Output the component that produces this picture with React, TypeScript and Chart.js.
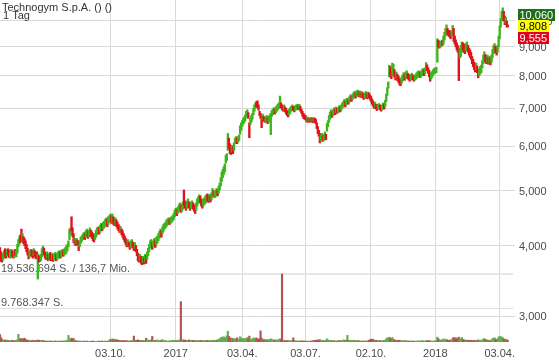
import React, { useEffect, useRef } from "react";
import { Chart, registerables } from "chart.js";

Chart.register(...registerables);

const TITLE = "Technogym S.p.A. () ()";
const SUBTITLE = "1 Tag";

// daily low / high (EUR), one entry per trading day from the IPO (03.05.2016)
const dayLow: number[] = [
  3.76, 3.75, 3.74, 3.77, 3.80, 3.82, 3.80, 3.83, 3.85, 3.81,
  3.80, 3.83, 3.82, 3.80, 3.81, 3.84, 3.82, 3.88, 3.98, 4.02,
  4.05, 4.08, 4.06, 4.03, 4.00, 3.95, 3.90, 3.85, 3.79, 3.82,
  3.84, 3.83, 3.80, 3.84, 3.82, 3.79, 3.80, 3.49, 3.74, 3.75,
  3.76, 3.82, 3.87, 3.85, 3.80, 3.78, 3.80, 3.76, 3.77, 3.78,
  3.76, 3.78, 3.75, 3.77, 3.79, 3.76, 3.78, 3.80, 3.82, 3.80,
  3.82, 3.84, 3.83, 3.85, 3.86, 3.88, 3.92, 3.98, 4.10, 4.18,
  4.25, 4.15, 4.05, 4.02, 4.00, 4.03, 4.01, 3.92, 3.98, 4.04,
  4.07, 4.10, 4.12, 4.10, 4.14, 4.16, 4.12, 4.14, 4.18, 4.15,
  4.12, 4.08, 4.06, 4.10, 4.14, 4.18, 4.21, 4.19, 4.22, 4.26,
  4.25, 4.28, 4.30, 4.33, 4.35, 4.32, 4.36, 4.40, 4.42, 4.38,
  4.40, 4.36, 4.34, 4.36, 4.32, 4.28, 4.25, 4.22, 4.24, 4.18,
  4.14, 4.10, 4.06, 4.02, 3.98, 4.00, 3.98, 3.94, 3.97, 4.00,
  3.96, 3.92, 3.95, 3.90, 3.84, 3.76, 3.74, 3.76, 3.72, 3.70,
  3.73, 3.71, 3.74, 3.72, 3.78, 3.84, 3.90, 3.96, 3.98, 3.94,
  3.98, 4.00, 3.97, 4.02, 4.04, 4.08, 4.12, 4.16, 4.14, 4.20,
  4.24, 4.28, 4.30, 4.33, 4.35, 4.38, 4.36, 4.38, 4.40, 4.42,
  4.45, 4.50, 4.54, 4.52, 4.56, 4.60, 4.62, 4.58, 4.60, 4.64,
  4.72, 4.66, 4.62, 4.66, 4.70, 4.66, 4.62, 4.65, 4.68, 4.64,
  4.60, 4.56, 4.62, 4.70, 4.75, 4.78, 4.76, 4.70, 4.66, 4.70,
  4.73, 4.75, 4.78, 4.80, 4.77, 4.80, 4.78, 4.82, 4.90, 4.88,
  4.86, 4.88, 4.92, 4.90, 4.95, 5.02, 5.10, 5.20, 5.28, 5.34,
  5.40, 5.60, 5.66, 5.90, 5.95, 5.82, 5.80, 5.86, 5.82, 5.90,
  6.06, 6.10, 6.06, 6.10, 6.14, 6.30, 6.40, 6.50, 6.56, 6.60,
  6.66, 6.75, 6.80, 6.72, 6.21, 6.55, 6.62, 6.70, 6.82, 6.92,
  7.00, 7.05, 7.02, 6.95, 6.80, 6.72, 6.47, 6.68, 6.64, 6.62,
  6.60, 6.64, 6.58, 6.62, 6.66, 6.29, 6.78, 6.82, 6.86, 6.84,
  6.88, 6.92, 6.96, 7.00, 7.10, 7.02, 6.96, 6.92, 6.95, 6.90,
  6.84, 6.80, 6.76, 6.82, 6.86, 6.92, 6.96, 6.94, 6.90, 6.94,
  6.96, 6.98, 6.96, 6.98, 6.92, 6.86, 6.78, 6.72, 6.70, 6.68,
  6.62, 6.64, 6.61, 6.63, 6.62, 6.64, 6.60, 6.62, 6.61, 6.58,
  6.45, 6.32, 6.25, 6.08, 6.12, 6.16, 6.12, 6.14, 6.20, 6.16,
  6.38, 6.50, 6.62, 6.70, 6.78, 6.75, 6.80, 6.86, 6.82, 6.88,
  6.86, 6.88, 6.92, 6.90, 6.95, 7.00, 7.04, 7.08, 7.04, 7.10,
  7.14, 7.12, 7.18, 7.22, 7.20, 7.26, 7.30, 7.34, 7.30, 7.36,
  7.38, 7.34, 7.36, 7.32, 7.35, 7.30, 7.26, 7.30, 7.34, 7.28,
  7.32, 7.30, 7.26, 7.20, 7.12, 7.06, 7.00, 7.04, 6.98, 6.94,
  6.98, 7.00, 6.96, 6.92, 6.96, 7.00, 6.98, 7.06, 7.20, 7.38,
  7.60, 7.95, 8.00, 7.90, 8.00, 8.10, 7.95, 7.86, 7.92, 7.84,
  7.78, 7.70, 7.68, 7.75, 7.82, 7.88, 7.85, 7.90, 7.94, 7.90,
  7.86, 7.82, 7.86, 7.90, 7.86, 7.82, 7.85, 7.88, 7.92, 7.95,
  7.98, 7.94, 7.96, 8.00, 8.04, 8.00, 8.06, 8.20, 8.16, 8.08,
  7.96, 7.82, 7.90, 7.95, 8.02, 8.06, 8.08, 8.10, 8.45, 9.00,
  8.95, 8.98, 9.02, 9.05, 9.10, 9.25, 9.40, 9.50, 9.45, 9.40,
  9.36, 9.30, 9.40, 9.50, 9.20, 9.10, 9.00, 8.88, 8.80, 7.84,
  8.60, 8.65, 8.80, 8.90, 8.80, 8.75, 8.85, 8.90, 8.80, 8.70,
  8.62, 8.55, 8.40, 8.30, 8.20, 8.12, 8.20, 8.10, 7.93, 8.00,
  8.05, 8.10, 8.26, 8.40, 8.50, 8.45, 8.40, 8.45, 8.38, 8.42,
  8.36, 8.44, 8.60, 8.75, 8.85, 8.78, 8.70, 8.80, 9.00, 9.30,
  9.75, 10.00, 10.20, 10.00, 9.85, 9.90, 9.75, 9.76,
];

const dayHigh: number[] = [
  3.97, 3.90, 3.86, 3.88, 3.92, 3.95, 3.90, 3.94, 3.95, 3.92,
  3.90, 3.94, 3.92, 3.89, 3.93, 3.94, 3.93, 4.02, 4.10, 4.15,
  4.18, 4.28, 4.20, 4.15, 4.12, 4.08, 4.02, 3.96, 3.90, 3.92,
  3.94, 3.93, 3.92, 3.95, 3.92, 3.88, 3.90, 3.87, 3.84, 3.83,
  3.86, 3.95, 3.99, 3.96, 3.90, 3.88, 3.90, 3.86, 3.87, 3.89,
  3.86, 3.88, 3.85, 3.87, 3.89, 3.86, 3.88, 3.90, 3.92, 3.90,
  3.92, 3.94, 3.92, 3.95, 3.97, 4.00, 4.02, 4.08, 4.28, 4.30,
  4.50, 4.30, 4.20, 4.12, 4.10, 4.12, 4.09, 4.05, 4.08, 4.14,
  4.16, 4.19, 4.22, 4.20, 4.25, 4.28, 4.24, 4.26, 4.30, 4.26,
  4.23, 4.20, 4.17, 4.20, 4.26, 4.30, 4.32, 4.30, 4.35, 4.38,
  4.36, 4.40, 4.42, 4.45, 4.48, 4.45, 4.50, 4.52, 4.55, 4.52,
  4.55, 4.50, 4.47, 4.48, 4.44, 4.40, 4.36, 4.33, 4.32, 4.28,
  4.25, 4.20, 4.16, 4.12, 4.08, 4.10, 4.06, 4.04, 4.08, 4.10,
  4.06, 4.02, 4.05, 4.00, 3.94, 3.88, 3.84, 3.86, 3.83, 3.80,
  3.83, 3.80, 3.86, 3.84, 3.90, 3.96, 4.02, 4.08, 4.10, 4.05,
  4.08, 4.12, 4.08, 4.14, 4.16, 4.20, 4.24, 4.28, 4.25, 4.32,
  4.36, 4.38, 4.40, 4.44, 4.46, 4.48, 4.46, 4.49, 4.50, 4.52,
  4.56, 4.62, 4.66, 4.64, 4.68, 4.72, 4.76, 4.72, 4.74, 4.78,
  5.02, 4.80, 4.76, 4.80, 4.84, 4.78, 4.74, 4.78, 4.80, 4.76,
  4.72, 4.68, 4.76, 4.84, 4.88, 4.92, 4.90, 4.84, 4.78, 4.84,
  4.86, 4.90, 4.92, 4.94, 4.90, 4.93, 4.90, 4.96, 5.05, 5.00,
  5.00, 5.02, 5.05, 5.02, 5.10, 5.16, 5.28, 5.40, 5.46, 5.52,
  5.58, 5.78, 5.82, 6.32, 6.20, 6.06, 6.00, 6.02, 5.98, 6.08,
  6.20, 6.24, 6.20, 6.24, 6.28, 6.52, 6.60, 6.66, 6.72, 6.76,
  6.82, 6.92, 6.96, 6.88, 6.60, 6.72, 6.80, 6.86, 7.00, 7.10,
  7.16, 7.20, 7.22, 7.10, 6.92, 6.86, 6.78, 6.84, 6.78, 6.75,
  6.76, 6.80, 6.74, 6.78, 6.82, 6.86, 6.94, 6.98, 7.02, 6.98,
  7.04, 7.08, 7.12, 7.16, 7.36, 7.16, 7.10, 7.06, 7.10, 7.04,
  7.00, 6.94, 6.90, 6.98, 7.02, 7.06, 7.10, 7.06, 7.04, 7.08,
  7.10, 7.12, 7.08, 7.12, 7.06, 6.98, 6.92, 6.86, 6.82, 6.80,
  6.74, 6.76, 6.72, 6.74, 6.72, 6.75, 6.72, 6.74, 6.73, 6.70,
  6.60, 6.50, 6.40, 6.32, 6.28, 6.32, 6.26, 6.30, 6.36, 6.30,
  6.58, 6.66, 6.80, 6.90, 6.96, 6.90, 6.96, 7.02, 6.98, 7.04,
  7.00, 7.02, 7.08, 7.04, 7.10, 7.16, 7.20, 7.26, 7.20, 7.28,
  7.30, 7.26, 7.34, 7.40, 7.36, 7.42, 7.46, 7.50, 7.46, 7.52,
  7.54, 7.50, 7.52, 7.48, 7.50, 7.46, 7.42, 7.46, 7.50, 7.44,
  7.48, 7.46, 7.40, 7.36, 7.28, 7.22, 7.16, 7.18, 7.12, 7.08,
  7.12, 7.14, 7.10, 7.06, 7.10, 7.16, 7.12, 7.24, 7.42, 7.62,
  7.80, 8.35, 8.30, 8.15, 8.42, 8.38, 8.20, 8.10, 8.12, 8.04,
  7.98, 7.90, 7.86, 7.95, 8.02, 8.10, 8.04, 8.12, 8.16, 8.08,
  8.04, 8.00, 8.04, 8.08, 8.02, 7.98, 8.02, 8.06, 8.10, 8.14,
  8.16, 8.10, 8.14, 8.20, 8.24, 8.18, 8.26, 8.44, 8.36, 8.26,
  8.18, 8.06, 8.10, 8.14, 8.20, 8.24, 8.26, 8.28, 9.30, 9.25,
  9.20, 9.18, 9.22, 9.25, 9.40, 9.55, 9.70, 9.84, 9.70, 9.62,
  9.62, 9.58, 9.60, 9.82, 9.70, 9.40, 9.26, 9.15, 9.05, 8.95,
  8.95, 9.05, 9.18, 9.15, 9.10, 9.00, 9.12, 9.18, 9.05, 8.95,
  8.88, 8.80, 8.65, 8.55, 8.45, 8.35, 8.42, 8.32, 8.20, 8.22,
  8.30, 8.35, 8.50, 8.70, 8.82, 8.72, 8.65, 8.70, 8.62, 8.66,
  8.60, 8.70, 8.90, 9.05, 9.12, 9.02, 8.95, 9.06, 9.40, 9.80,
  10.10, 10.40, 10.55, 10.40, 10.20, 10.15, 10.00, 9.84,
];

// g = day closed up (green), r = day closed down (red)
const dayDirection = [
  "rrrggrrgrr", "ggrrgrgggg", "rrgrrrrrrg", "grrgrrrgrr", "gggrrrgrgr",
  "rgrggrgggr", "ggrggggggg", "rrrgrgrrgg", "gggrggrggr", "rrrggggrgg",
  "rggggrgggr", "grrgrrrrgr", "rrrrrgrrgg", "rrgrrrrgrr", "grgrgggggr",
  "ggrgggggrg", "ggggggrggg", "gggrgggrgg", "rrrggrrggr", "rrggggrrrg",
  "gggrrgrggr", "gggrgggggg", "ggggrrrgrg", "ggrggggggg", "gggrrggggg",
  "grrrrrrgrr", "ggrggggggr", "gggggrrrgr", "rrrggggrrg", "ggrgrrrrrr",
  "rgrgrgrgrr", "rrrrggrggr", "gggggrggrg", "rggrggggrg", "grggrgggrg",
  "grgrgrrggr", "grrrrrrgrr", "ggrrggrggg", "ggrrggrrgr", "rrrgggrggr",
  "rrggrrgggg", "grgggrggrr", "rrgggggggr", "rggrggggrr", "rrggrrrrrr",
  "gggrrrggrr", "rrrrrrgrrg", "gggggrrgrg", "rggggrrggg", "gggrrgrr",
].join("");

// daily volume, millions of shares
const volumeMio: number[] = [
  2.1, 1.2, 0.8, 0.5, 0.4, 0.6, 0.3, 0.5, 0.4, 0.3,
  0.4, 0.3, 0.5, 0.3, 0.4, 0.3, 0.5, 0.6, 2.2, 0.9,
  0.9, 1.0, 0.8, 0.9, 1.1, 0.7, 0.6, 0.4, 0.5, 0.3,
  0.4, 0.3, 0.5, 0.3, 0.4, 0.3, 0.4, 0.6, 0.5, 0.4,
  0.3, 0.5, 0.4, 0.3, 0.3, 0.2, 0.3, 0.2, 0.3, 0.2,
  0.3, 0.2, 0.2, 0.3, 0.2, 0.3, 0.2, 0.2, 0.3, 0.2,
  0.3, 0.2, 0.3, 0.2, 0.4, 0.3, 0.5, 1.9, 0.9, 0.6,
  1.1, 0.8, 1.0, 0.5, 0.4, 0.3, 0.2, 0.3, 0.2, 0.3,
  0.2, 0.2, 0.3, 0.2, 0.2, 0.3, 0.2, 0.2, 0.1, 0.2,
  0.2, 0.3, 0.2, 0.2, 0.1, 0.2, 0.2, 0.3, 0.2, 0.2,
  0.3, 0.2, 0.2, 0.3, 0.2, 0.2, 0.3, 0.5, 0.8, 0.6,
  0.9, 0.7, 0.6, 0.8, 0.5, 0.6, 0.4, 0.5, 0.3, 0.4,
  0.3, 0.4, 0.3, 0.3, 0.4, 0.3, 0.2, 0.3, 0.4, 0.3,
  0.3, 1.7, 0.5, 0.4, 0.5, 0.6, 0.4, 0.5, 0.3, 0.4,
  0.3, 0.4, 0.3, 1.1, 0.5, 0.6, 0.4, 0.5, 0.6, 1.6,
  0.4, 0.3, 0.5, 0.4, 0.6, 0.4, 0.3, 0.4, 0.5, 0.7,
  0.4, 0.3, 0.4, 0.3, 0.2, 0.3, 0.2, 0.4, 0.3, 0.4,
  0.5, 0.3, 0.4, 0.3, 0.5, 0.4, 0.6, 11.6, 0.7, 0.5,
  0.6, 0.4, 0.5, 0.3, 0.4, 0.6, 0.4, 0.3, 0.5, 0.4,
  0.3, 0.4, 0.3, 0.5, 0.4, 0.3, 0.4, 0.3, 0.4, 0.3,
  0.4, 0.3, 0.5, 0.4, 0.3, 0.4, 0.3, 0.4, 0.5, 0.4,
  0.5, 0.4, 0.6, 0.5, 0.7, 0.9, 1.2, 1.4, 1.1, 1.5,
  1.0, 1.3, 1.8, 3.1, 1.6, 1.2, 0.9, 1.1, 0.8, 1.0,
  0.8, 0.9, 1.2, 0.7, 0.8, 1.5, 1.1, 0.9, 1.0, 0.8,
  1.0, 0.9, 1.3, 0.8, 1.7, 0.9, 0.7, 0.8, 1.2, 1.0,
  0.9, 1.2, 0.8, 0.7, 1.0, 3.2, 1.1, 0.8, 0.6, 0.7,
  0.6, 0.7, 0.5, 0.6, 0.8, 0.9, 0.7, 0.6, 0.5, 0.6,
  0.5, 0.6, 0.5, 0.7, 0.9, 0.6, 19.54, 0.5, 0.4, 0.3,
  0.4, 0.3, 0.4, 0.3, 0.3, 0.4, 0.3, 1.2, 0.4, 0.3,
  0.3, 0.3, 0.2, 0.3, 0.2, 0.3, 0.3, 0.2, 0.3, 0.2,
  0.2, 0.3, 0.2, 0.2, 0.3, 0.2, 0.4, 0.3, 0.5, 0.4,
  0.5, 0.6, 0.4, 0.7, 0.4, 0.3, 0.4, 0.3, 0.4, 0.3,
  0.9, 0.6, 0.5, 0.4, 0.3, 0.4, 0.3, 0.4, 0.3, 0.2,
  0.3, 0.4, 0.5, 0.3, 0.4, 0.3, 0.6, 0.5, 0.4, 0.6,
  1.9, 0.5, 0.4, 0.5, 0.3, 0.4, 0.5, 0.4, 0.3, 0.4,
  0.3, 0.4, 0.3, 0.2, 0.3, 0.2, 0.3, 0.3, 0.2, 0.3,
  0.3, 0.5, 0.6, 0.8, 0.7, 0.8, 0.5, 0.4, 0.5, 0.4,
  0.4, 0.3, 0.4, 0.3, 0.3, 0.4, 0.3, 0.5, 0.9, 1.2,
  1.0, 1.4, 1.1, 0.9, 1.3, 0.8, 0.6, 0.5, 0.4, 0.5,
  0.4, 0.5, 0.3, 0.4, 0.3, 0.4, 0.3, 0.4, 0.3, 0.2,
  0.3, 0.2, 0.3, 0.2, 0.3, 0.2, 0.2, 0.3, 0.2, 0.3,
  0.3, 0.2, 0.3, 0.4, 0.3, 0.2, 0.3, 0.4, 0.3, 0.3,
  0.4, 0.3, 0.2, 0.3, 0.2, 0.3, 0.3, 0.4, 1.4, 0.9,
  0.6, 0.5, 0.6, 0.4, 0.9, 0.6, 0.7, 0.8, 0.5, 0.4,
  0.5, 0.6, 0.4, 1.1, 1.3, 0.9, 1.2, 1.0, 0.8, 1.4,
  1.0, 0.8, 1.3, 0.7, 0.6, 0.5, 0.6, 0.4, 0.5, 0.4,
  0.4, 0.5, 0.3, 0.4, 0.3, 0.5, 0.4, 0.3, 0.6, 0.5,
  0.4, 0.5, 0.6, 0.8, 1.0, 0.7, 0.5, 0.6, 0.4, 0.5,
  0.4, 0.6, 0.9, 1.1, 1.2, 0.8, 0.7, 0.9, 1.4, 1.6,
  1.3, 1.5, 1.2, 0.9, 0.7, 0.8, 0.6, 0.4,
];

// x-axis labels: trading-day index of each date
const xTickIndex = [108, 172, 237, 299, 363, 426, 489];
const xTickLabel = ["03.10.", "2017", "03.04.", "03.07.", "02.10.", "2018", "03.04."];

const priceTicks = [3, 4, 5, 6, 7, 8, 9, 10];

const volumeRefMio = 19.536694;
const volumeRefLabel = "19.536.694 S. / 136,7 Mio.";
const volumeHalfLabel = "9.768.347 S.";

const quoteHigh = 10.06;
const quoteLast = 9.808;
const quoteLow = 9.555;

// axis ranges
const X_MAX = 504;
const PRICE_MIN = 2.709;
const PRICE_MAX = 10.892;
const VOLUME_MAX = 98.26;

const PRICE_UP = "#3db51c";
const PRICE_DOWN = "#e0121c";
const VOL_UP = "#63ad4c";
const VOL_DOWN = "#b45252";
const GRID = "#d9d9d9";
const FONT = "11px 'Liberation Sans', Arial, sans-serif";

const fmtPrice = (v: number) => v.toFixed(3).replace(".", ",");

const overlayPlugin = {
  id: "overlay",
  beforeDatasetsDraw(chart: any) {
    const { ctx, chartArea, scales } = chart;
    const yV = scales.yV;
    const yRef = Math.round(yV.getPixelForValue(volumeRefMio));
    const yHalf = Math.round(yV.getPixelForValue(volumeRefMio / 2));
    const w = chartArea.right - chartArea.left - 2;
    ctx.save();
    ctx.fillStyle = "#e6e6e6";
    ctx.fillRect(chartArea.left, yRef - 1, w, 2);
    ctx.fillStyle = "#dddddd";
    ctx.fillRect(chartArea.left, yHalf, w, 1);
    ctx.font = FONT;
    ctx.fillStyle = "#555555";
    ctx.textAlign = "left";
    ctx.textBaseline = "alphabetic";
    ctx.fillText(volumeRefLabel, 1, yRef - 2);
    ctx.fillText(volumeHalfLabel, 1, yHalf - 2);
    ctx.restore();
  },
  afterDraw(chart: any) {
    const { ctx, chartArea, scales } = chart;
    ctx.save();
    ctx.font = FONT;
    ctx.textBaseline = "alphabetic";

    ctx.fillStyle = "#4a4a4a";
    ctx.textAlign = "left";
    priceTicks.forEach((v) => {
      const y = Math.round(scales.yP.getPixelForValue(v));
      ctx.fillText(fmtPrice(v), chartArea.right + 4, y + 4);
    });

    ctx.textAlign = "center";
    xTickIndex.forEach((v, k) => {
      ctx.fillText(xTickLabel[k], scales.x.getPixelForValue(v), chartArea.bottom + 15);
    });

    ctx.fillStyle = "#333333";
    ctx.textAlign = "left";
    ctx.fillText(TITLE, 2, 11);
    ctx.fillText(SUBTITLE, 3, 19);

    const yLast = scales.yP.getPixelForValue(quoteLast);
    const badges = [
      { v: quoteHigh, bg: "#1d6e1d", fg: "#ffffff", top: yLast - 17 },
      { v: quoteLast, bg: "#ffff00", fg: "#000000", top: yLast - 5.5 },
      { v: quoteLow, bg: "#e2001a", fg: "#ffffff", top: yLast + 6 },
    ];
    badges.forEach((b) => {
      const t = fmtPrice(b.v);
      const w = Math.ceil(ctx.measureText(t).width) + 3;
      const top = Math.round(b.top);
      ctx.fillStyle = b.bg;
      ctx.fillRect(chartArea.right + 3, top, w, 12);
      ctx.fillStyle = b.fg;
      ctx.fillText(t, chartArea.right + 4.5, top + 10);
    });
    ctx.restore();
  },
};

export default function App() {
  const ref = useRef<HTMLCanvasElement>(null);

  useEffect(() => {
    const canvas = ref.current;
    if (!canvas) return;
    const isUp = (i: number) => dayDirection[i] === "g";
    const priceBars = dayLow.map((lo, i) => ({ x: i, y: [lo, dayHigh[i]] }));
    const volumeBars = volumeMio.map((v, i) => ({ x: i, y: v }));

    const chart = new Chart(canvas, {
      type: "bar",
      data: {
        datasets: [
          {
            label: "Kurs",
            data: priceBars as any,
            yAxisID: "yP",
            backgroundColor: priceBars.map((_, i) => (isUp(i) ? PRICE_UP : PRICE_DOWN)),
            borderWidth: 0,
            barThickness: 1.7,
            grouped: false,
            order: 0,
          },
          {
            label: "Volumen",
            data: volumeBars as any,
            yAxisID: "yV",
            backgroundColor: volumeBars.map((_, i) => (isUp(i) ? VOL_UP : VOL_DOWN)),
            borderWidth: 0,
            barThickness: 1.5,
            grouped: false,
            order: 1,
          },
        ],
      },
      options: {
        animation: false,
        responsive: false,
        devicePixelRatio: 1,
        events: [],
        layout: { padding: { left: 0, top: 0, right: 44, bottom: 21 } },
        plugins: {
          legend: { display: false },
          tooltip: { enabled: false },
          title: { display: false },
        },
        scales: {
          x: {
            type: "linear",
            min: 0,
            max: X_MAX,
            offset: false,
            border: { display: false },
            grid: { color: GRID, offset: false, drawTicks: false },
            ticks: { display: false },
            afterBuildTicks: (s: any) => {
              s.ticks = xTickIndex.map((v) => ({ value: v }));
            },
          },
          yP: {
            type: "logarithmic",
            position: "right",
            min: PRICE_MIN,
            max: PRICE_MAX,
            border: { display: false },
            grid: { color: GRID, drawTicks: false },
            ticks: { display: false },
            afterBuildTicks: (s: any) => {
              s.ticks = priceTicks.map((v) => ({ value: v }));
            },
          },
          yV: {
            type: "linear",
            display: false,
            min: 0,
            max: VOLUME_MAX,
          },
        },
      } as any,
      plugins: [overlayPlugin],
    });
    return () => chart.destroy();
  }, []);

  return (
    <div style={{ position: "fixed", left: 0, top: 0, width: 559, height: 363, background: "#ffffff" }}>
      <canvas ref={ref} width={559} height={363} style={{ display: "block", width: 559, height: 363 }} />
    </div>
  );
}
